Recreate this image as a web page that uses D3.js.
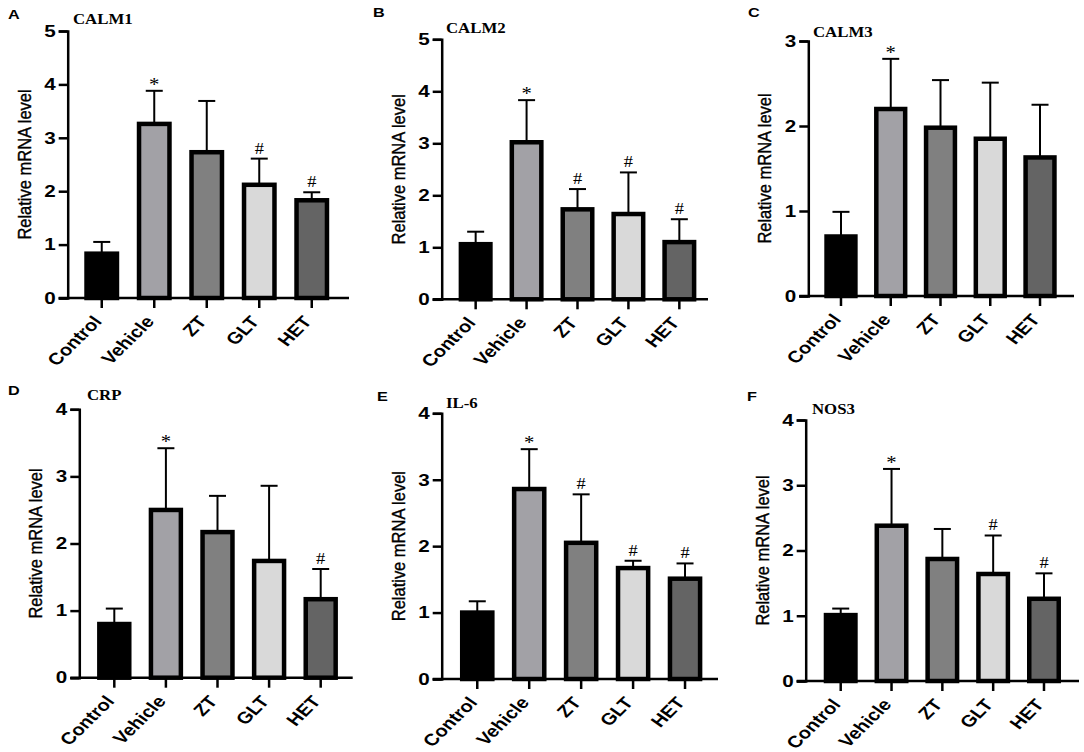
<!DOCTYPE html>
<html>
<head>
<meta charset="utf-8">
<script src="https://cdn.jsdelivr.net/npm/d3@7"></script>
<style>
  body { margin: 0; background: #fff; }
  svg { display: block; }
</style>
</head>
<body>
<script>
// Relative mRNA levels, six genes, five groups
const groups = ["Control", "Vehicle", "ZT", "GLT", "HET"];
const genes = ["CALM1", "CALM2", "CALM3", "CRP", "IL-6", "NOS3"];
const panelLetters = ["A", "B", "C", "D", "E", "F"];
const yMax = [5, 5, 3, 4, 4, 4];

const meanCALM1 = [0.83, 3.26, 2.73, 2.12, 1.83];
const meanCALM2 = [1.06, 3.02, 1.73, 1.64, 1.10];
const meanCALM3 = [0.70, 2.20, 1.98, 1.85, 1.63];
const meanCRP   = [0.80, 2.50, 2.17, 1.74, 1.17];
const meanIL6   = [1.00, 2.86, 2.05, 1.67, 1.51];
const meanNOS3  = [1.01, 2.38, 1.87, 1.64, 1.26];

const sdCALM1 = [0.22, 0.62, 0.96, 0.49, 0.15];
const sdCALM2 = [0.24, 0.81, 0.39, 0.80, 0.44];
const sdCALM3 = [0.29, 0.59, 0.56, 0.66, 0.62];
const sdCRP   = [0.23, 0.92, 0.54, 1.12, 0.45];
const sdIL6   = [0.17, 0.60, 0.73, 0.11, 0.23];
const sdNOS3  = [0.10, 0.87, 0.46, 0.59, 0.39];

const marksCALM1 = ["", "*", "", "#", "#"];
const marksCALM2 = ["", "*", "#", "#", "#"];
const marksCALM3 = ["", "*", "", "", ""];
const marksCRP   = ["", "*", "", "", "#"];
const marksIL6   = ["", "*", "#", "#", "#"];
const marksNOS3  = ["", "*", "", "#", "#"];

const means = [meanCALM1, meanCALM2, meanCALM3, meanCRP, meanIL6, meanNOS3];
const sds = [sdCALM1, sdCALM2, sdCALM3, sdCRP, sdIL6, sdNOS3];
const marks = [marksCALM1, marksCALM2, marksCALM3, marksCRP, marksIL6, marksNOS3];

const fills = ["#000000", "#a2a1a6", "#808080", "#d9d9d9", "#646464"];

// panel placement on the page
const layout = [
  { ax: 67.7,  aEnd: 349,  y0: 298,   yTop: 31,    b0: 75.5,  b1: 338,   tx: 73,  ty: 24,    lx: 8,   ly: 18.5 },
  { ax: 441.7, aEnd: 708,  y0: 299.3, yTop: 39.3,  b0: 450.2, b1: 704.8, tx: 446, ty: 33,    lx: 373, ly: 17 },
  { ax: 808.3, aEnd: 1074, y0: 296,   yTop: 41,    b0: 816.1, b1: 1064.9,tx: 813, ty: 36.5,  lx: 748, ly: 17 },
  { ax: 79.3,  aEnd: 352.7,y0: 677.7, yTop: 409.3, b0: 88.5,  b1: 346.5, tx: 87,  ty: 399.5, lx: 8,   ly: 395 },
  { ax: 441.7, aEnd: 718,  y0: 679,   yTop: 413.3, b0: 451.3, b1: 711,   tx: 446, ty: 408,   lx: 377, ly: 401 },
  { ax: 805.7, aEnd: 1079, y0: 681,   yTop: 420,   b0: 815.3, b1: 1069.4,tx: 812, ty: 413.5, lx: 747, ly: 401 }
];

// the original figure is a little stretched sideways, text follows that
const sx = 1.22;
const sans = "'Liberation Sans', Arial, sans-serif";
const serif = "'Liberation Serif', 'Times New Roman', serif";

function drawChart() {
  const width = 1084;
  const height = 752;

  const svg = d3.select("body")
    .append("svg")
    .attr("width", width)
    .attr("height", height)
    .style("background", "#fff");

  genes.forEach(function(gene, p) {
    const L = layout[p];
    const g = svg.append("g");

    const x = d3.scaleBand()
      .domain(groups)
      .range([L.b0, L.b1])
      .paddingInner(0.42)
      .paddingOuter(0.21);

    const y = d3.scaleLinear()
      .domain([0, yMax[p]])
      .range([L.y0, L.yTop]);

    const rows = groups.map(function(grp, i) {
      return { group: grp, mean: means[p][i], sd: sds[p][i], mark: marks[p][i], fill: fills[i] };
    });
    const cx = d => x(d.group) + x.bandwidth() / 2;

    // error bars (upper only)
    g.selectAll(".err")
      .data(rows)
      .enter()
      .append("line")
      .attr("x1", cx)
      .attr("x2", cx)
      .attr("y1", d => y(d.mean))
      .attr("y2", d => y(d.mean + d.sd))
      .attr("stroke", "#000")
      .attr("stroke-width", 2);

    g.selectAll(".cap")
      .data(rows)
      .enter()
      .append("line")
      .attr("x1", d => cx(d) - 8.5)
      .attr("x2", d => cx(d) + 8.5)
      .attr("y1", d => y(d.mean + d.sd))
      .attr("y2", d => y(d.mean + d.sd))
      .attr("stroke", "#000")
      .attr("stroke-width", 2);

    // bars
    g.selectAll(".bar")
      .data(rows)
      .enter()
      .append("rect")
      .attr("x", d => x(d.group))
      .attr("width", x.bandwidth())
      .attr("y", d => y(d.mean))
      .attr("height", d => y(0) - y(d.mean))
      .attr("fill", d => d.fill)
      .attr("stroke", "#000")
      .attr("stroke-width", 4.5);

    // significance marks
    g.selectAll(".mark")
      .data(rows.filter(d => d.mark !== ""))
      .enter()
      .append("text")
      .attr("transform", d => "translate(" + cx(d) + "," + (y(d.mean + d.sd) - (d.mark === "*" ? 0 : 5)) + ") scale(1.15,1)")
      .attr("text-anchor", "middle")
      .style("font-family", serif)
      .style("font-size", d => d.mark === "*" ? "18px" : "16px")
      .text(d => d.mark);

    // y axis
    const yAxis = d3.axisLeft(y)
      .ticks(yMax[p])
      .tickFormat(d3.format("d"))
      .tickSizeOuter(0)
      .tickSize(9);

    const ya = g.append("g")
      .attr("transform", "translate(" + L.ax + ",0)")
      .call(yAxis);
    ya.select(".domain").attr("stroke-width", 2.5);
    ya.selectAll(".tick line").attr("stroke-width", 2.5);
    ya.selectAll(".tick text")
      .attr("x", 0)
      .attr("transform", "translate(-12,0) scale(1.25,1)")
      .style("font-family", sans)
      .style("font-weight", "bold")
      .style("font-size", "16.5px")
      .attr("fill", "#000");

    // x axis line
    g.append("line")
      .attr("x1", L.ax - 9)
      .attr("x2", L.aEnd)
      .attr("y1", L.y0)
      .attr("y2", L.y0)
      .attr("stroke", "#000")
      .attr("stroke-width", 2.5);

    const xAxis = d3.axisBottom(x).tickSize(10).tickSizeOuter(0);
    const xa = g.append("g")
      .attr("transform", "translate(0," + L.y0 + ")")
      .call(xAxis);
    xa.select(".domain").remove();
    xa.selectAll(".tick line").attr("stroke-width", 2.5);
    xa.selectAll(".tick text")
      .style("font-family", sans)
      .style("font-weight", "bold")
      .style("font-size", "16.5px")
      .attr("fill", "#000")
      .attr("text-anchor", "end")
      .attr("dy", null)
      .attr("y", 0)
      .attr("transform", "translate(1,24) scale(" + sx + ",1) rotate(-50)");

    // y axis title
    g.append("text")
      .attr("transform", "translate(" + (L.ax - 37) + "," + ((L.y0 + L.yTop) / 2) + ") scale(1.12,1) rotate(-90)")
      .attr("text-anchor", "middle")
      .style("font-family", sans)
      .style("font-size", "16.5px")
      .attr("stroke", "#000")
      .attr("stroke-width", 0.35)
      .text("Relative mRNA level");

    // gene title
    g.append("text")
      .attr("transform", "translate(" + L.tx + "," + L.ty + ") scale(1.2,1)")
      .style("font-family", serif)
      .style("font-weight", "bold")
      .style("font-size", "14px")
      .text(gene);

    // panel letter
    g.append("text")
      .attr("transform", "translate(" + L.lx + "," + L.ly + ") scale(1.3,1)")
      .style("font-family", sans)
      .style("font-weight", "bold")
      .style("font-size", "12.5px")
      .text(panelLetters[p]);
  });
}
window.onload = drawChart;
</script>
</body>
</html>
